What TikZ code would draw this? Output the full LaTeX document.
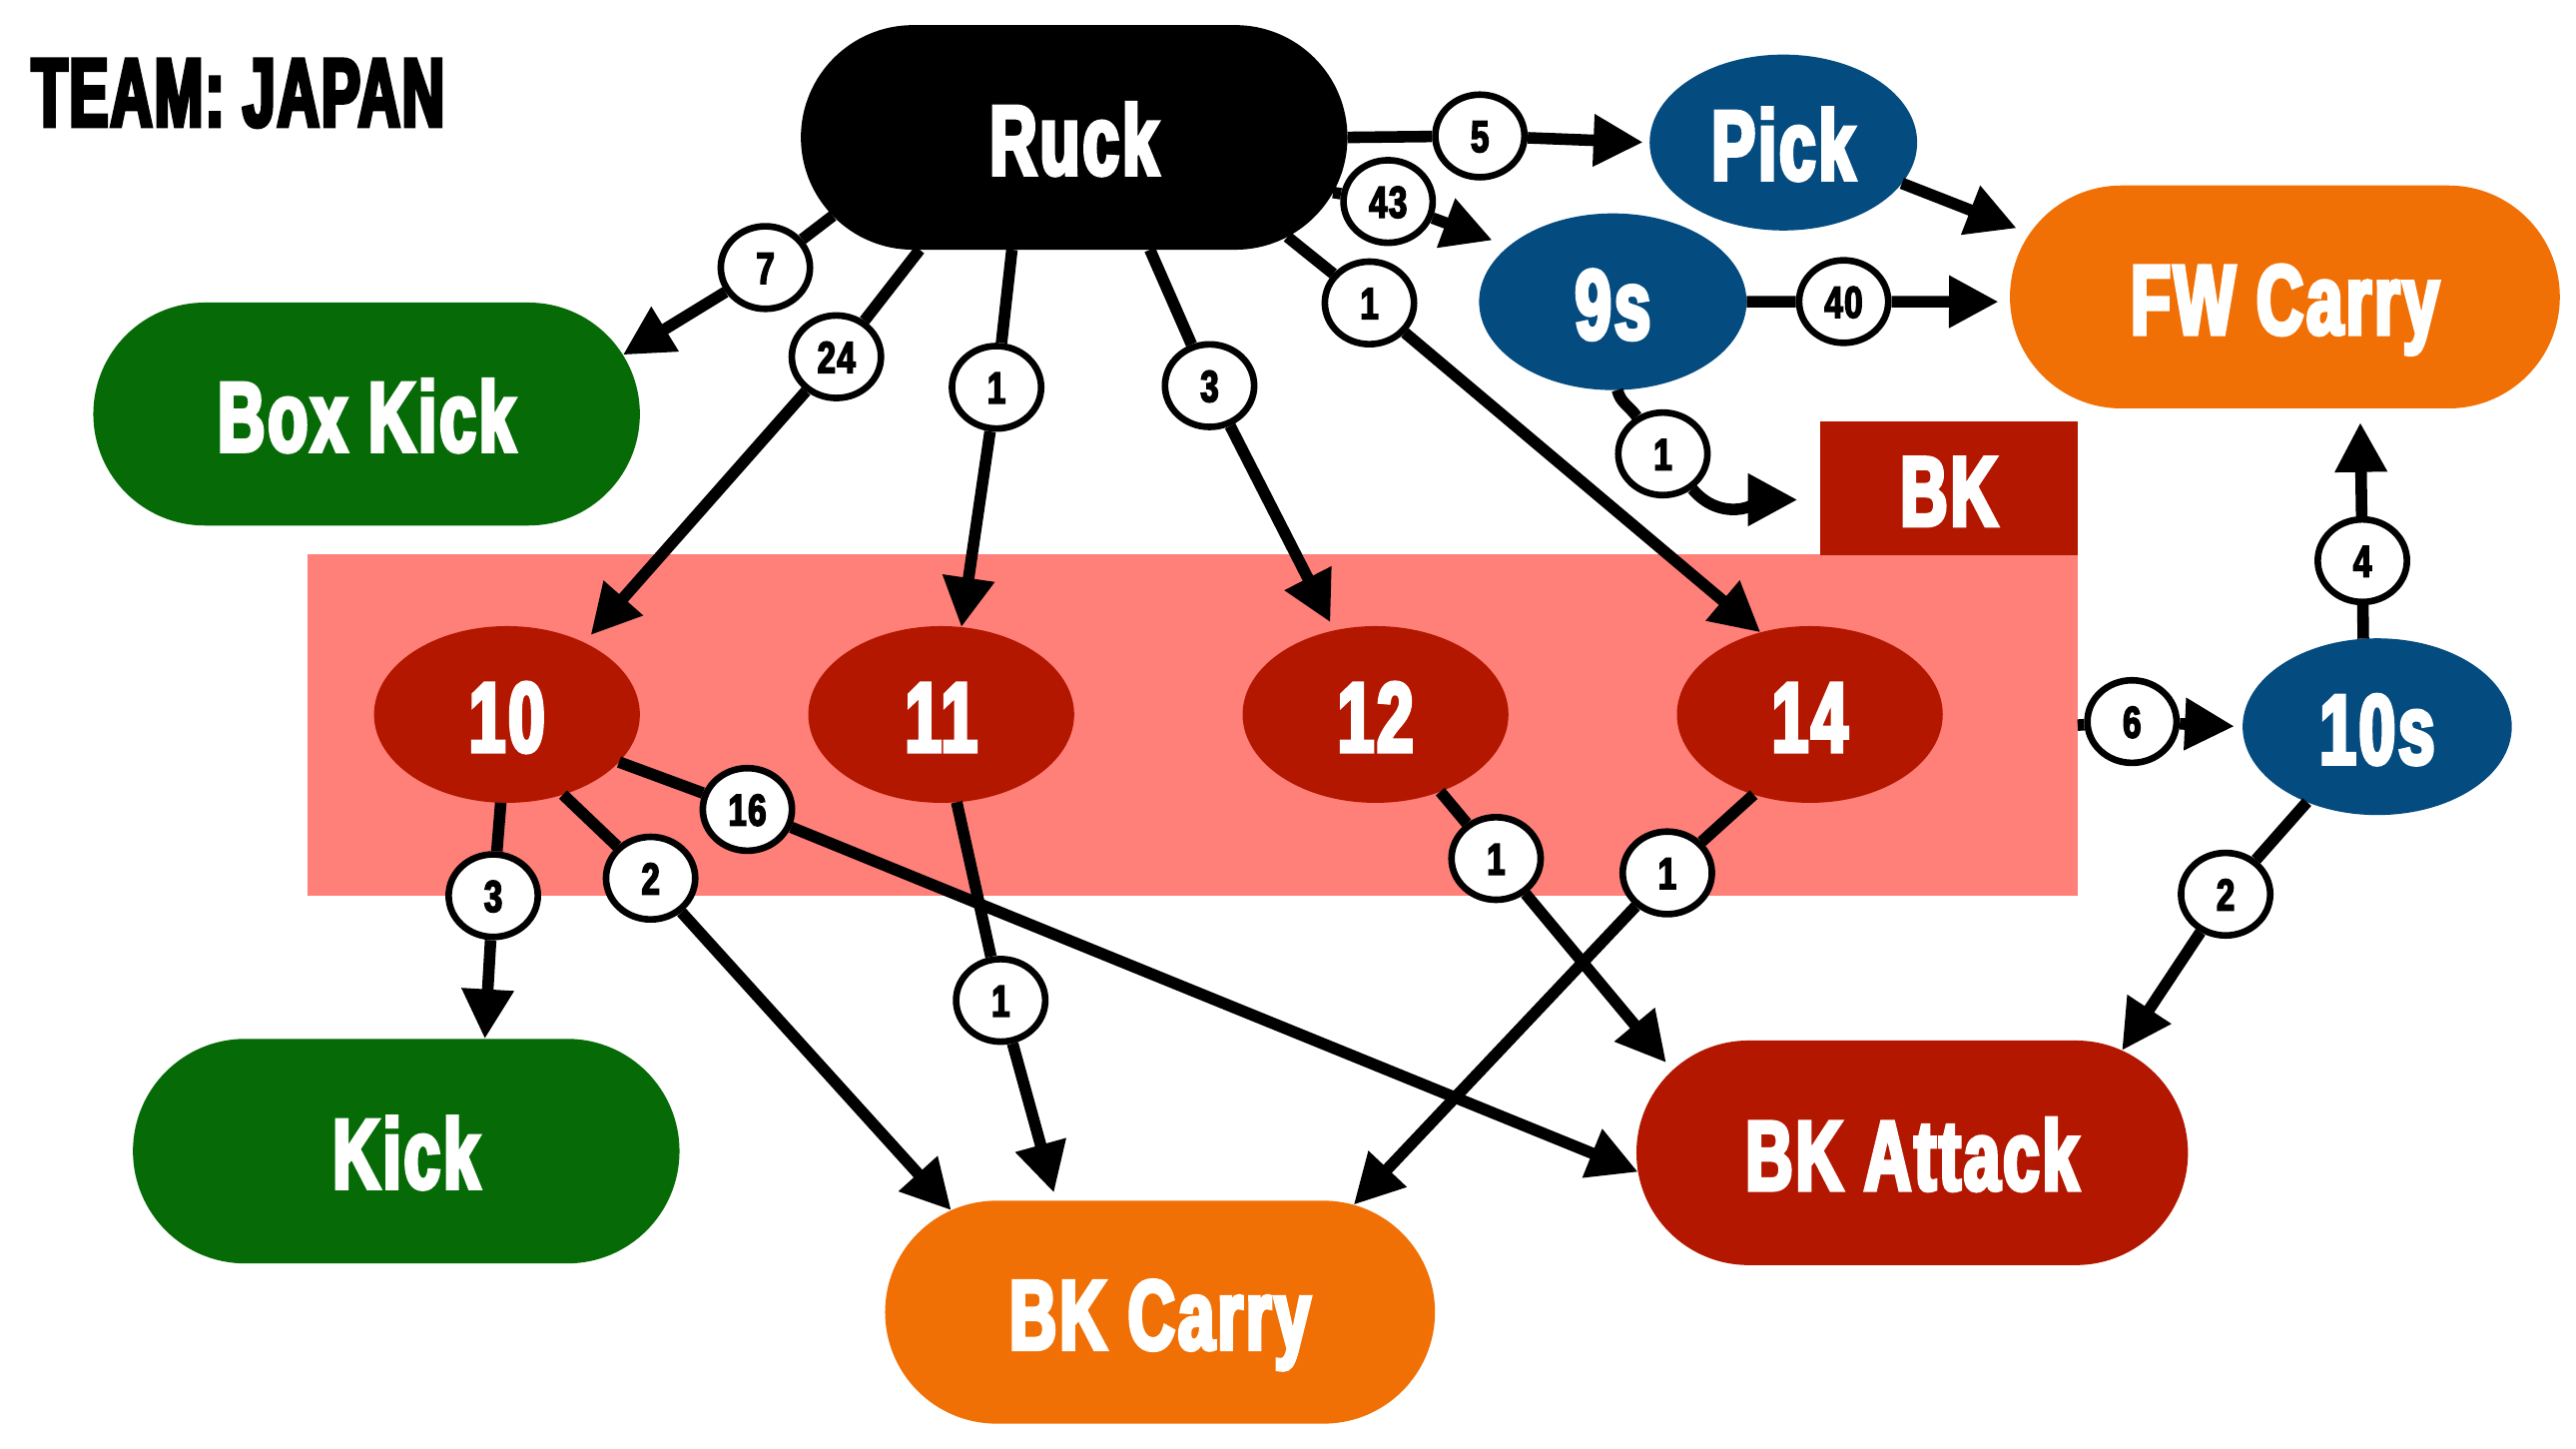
\documentclass[tikz,border=0pt]{standalone}
\usepackage{fontspec}
\usetikzlibrary{shapes.geometric,shapes.misc,arrows.meta}
\newfontfamily\nodefam{Liberation Sans Bold}[FakeStretch=0.66,FakeBold=4,LetterSpace=3]
\newfontfamily\titlefam{Liberation Sans Bold}[FakeStretch=0.6,FakeBold=4,LetterSpace=2]
\newfontfamily\labfam{Liberation Sans Bold}[FakeStretch=0.74,FakeBold=3.5,LetterSpace=3]
\definecolor{clpink}{HTML}{FF7F79}
\definecolor{dred}{HTML}{B31700}
\definecolor{dgreen}{HTML}{066B06}
\definecolor{orng}{HTML}{F07005}
\definecolor{dblue}{HTML}{044B80}
\tikzset{
  stad/.style={rounded rectangle, minimum width=331pt, minimum height=135pt, inner sep=0pt, outer sep=0pt, text=white, font=\nodefam\fontsize{60}{60}\selectfont, text height=45pt, text depth=0pt},
  ell/.style={ellipse, minimum width=161pt, minimum height=107pt, inner sep=0pt, outer sep=0pt, text=white, font=\nodefam\fontsize{60}{60}\selectfont, text height=45pt, text depth=0pt},
  lab/.style={ellipse, draw=black, line width=4pt, fill=white, minimum width=54pt, minimum height=50pt, inner sep=0pt, font=\labfam\fontsize{27}{27}\selectfont, text height=19.5pt, text depth=0pt},
  conn/.style={line width=7pt, -{Triangle[length=30pt,width=30pt]}},
}
\begin{document}
\begin{tikzpicture}[x=1pt,y=1pt]
\useasboundingbox (0,0) rectangle (1560,-877.35);
\fill[white] (0,0) rectangle (1560,-877.35);
% title
\node[anchor=base west, inner sep=0pt, font=\titlefam\fontsize{59}{59}\selectfont] (title) at (19,-76.5) {TEAM: JAPAN};
% cluster
\node[rectangle, fill=clpink, minimum width=1071.7pt, minimum height=206.7pt, inner sep=0pt, outer sep=0pt] (cluster) at (722.35,-439.05) {};
% main nodes
\node[stad, fill=black, minimum height=136pt] (ruck) at (650.5,-83.2) {Ruck};
\node[stad, fill=dgreen] (bx) at (222,-250.7) {Box Kick};
\node[stad, fill=dgreen, minimum height=136pt] (kick) at (246,-697) {Kick};
\node[stad, fill=orng, minimum width=333pt] (bkc) at (702.5,-794.5) {BK Carry};
\node[stad, fill=dred, minimum width=334pt, minimum height=136pt] (bka) at (1158,-698) {BK Attack};
\node[stad, fill=orng, minimum width=333pt] (fw) at (1383.7,-179.8) {FW Carry};
\node[ell, fill=dblue, minimum width=162pt, minimum height=106.5pt] (pick) at (1080,-86.3) {Pick};
\node[ell, fill=dblue, minimum width=162pt] (nines) at (976.7,-182.7) {9s};
\node[ell, fill=dblue, minimum width=163pt] (tens) at (1439.6,-440) {10s};
\node[rectangle, fill=dred, minimum width=155.5pt, minimum height=81pt, inner sep=0pt, outer sep=0pt, text=white, font=\nodefam\fontsize{60}{60}\selectfont, text height=45pt, text depth=0pt] (bk) at (1180.3,-295.8) {BK};
\node[ell, fill=dred] (n10) at (307,-432.6) {10};
\node[ell, fill=dred] (n11) at (570,-432.6) {11};
\node[ell, fill=dred] (n12) at (833,-432.6) {12};
\node[ell, fill=dred] (n14) at (1096,-432.6) {14};
% labels
\node[lab] (l7) at (463.5,-162) {7};
\node[lab] (l24) at (506.5,-216) {24};
\node[lab] (l1a) at (603.5,-234.5) {1};
\node[lab] (l3a) at (732.5,-233.5) {3};
\node[lab] (l1b) at (829.3,-183.4) {1};
\node[lab] (l5) at (896.2,-82.3) {5};
\node[lab] (l43) at (840.6,-122) {43};
\node[lab] (l40) at (1116.5,-182.6) {40};
\node[lab] (l1c) at (1007,-274.8) {1};
\node[lab] (l3b) at (298.7,-542.3) {3};
\node[lab] (l2a) at (394,-531.7) {2};
\node[lab] (l16) at (452.6,-490.1) {16};
\node[lab] (l1d) at (606,-605.7) {1};
\node[lab] (l1e) at (906,-519.8) {1};
\node[lab] (l1f) at (1009.7,-528.5) {1};
\node[lab] (l6) at (1291.1,-436.9) {6};
\node[lab] (l4) at (1430.6,-339.5) {4};
\node[lab] (l2b) at (1347.8,-541.4) {2};
% connectors
\draw[conn] (ruck.198.2) -- (l7) -- (bx.13.3);
\draw[conn, shorten >=6pt] (ruck.216.4) -- (l24) -- (n10.43);
\draw[conn] (ruck.241.3) -- (l1a) -- (n11.77.7);
\draw[conn, shorten >=5.5pt] (ruck.304.1) -- (l3a) -- (n12.116.9);
\draw[conn] (ruck.335.7) -- (l1b) -- (n14.121.8);
\draw[conn, shorten >=4pt] (ruck.east) -- (l5) -- (pick.west);
\draw[conn, shorten >=10.5pt] (ruck.348.4) -- (l43) -- (nines.152.9);
\draw[conn, shorten >=8.6pt] (pick.341.5) -- (fw.166.7);
\draw[conn, shorten >=7pt] (nines.east) -- (l40) -- (fw.181);
\draw[conn, shorten >=14pt] (nines.273.2) to[out=-78,in=125] (l1c) to[out=-50,in=180] (bk.185.5);
\draw[conn] (n10.266.1) -- (l3b) -- (kick.55.1);
\draw[conn] (n10.305.9) -- (l2a) -- (bkc.154);
\draw[conn] (n10.337.3) -- (l16) -- (bka.184);
\draw[conn, shorten >=5pt] (n11.280.5) -- (l1d) -- (bkc.133.4);
\draw[conn, shorten >=6pt] (n12.310.8) -- (l1e) -- (bka.161.3);
\draw[conn] (n14.235.5) -- (l1f) -- (bkc.29.4);
\draw[conn, shorten >=5pt] (cluster.east) -- (l6) -- (tens.west);
\draw[conn, shorten >=8.5pt] (tens.99.8) -- (l4) -- (fw.304.8);
\draw[conn] (tens.227.9) -- (l2b) -- (bka.26.5);
\end{tikzpicture}
\end{document}
